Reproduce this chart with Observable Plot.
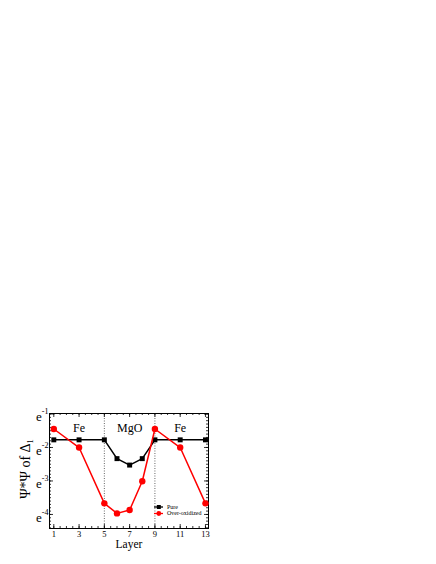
<!DOCTYPE html>
<html><head><meta charset="utf-8">
<script src="https://cdn.jsdelivr.net/npm/d3@7"></script>
<script src="https://cdn.jsdelivr.net/npm/@observablehq/plot@0.6"></script>
<style>
body{margin:0;background:#fff;}
#chart{position:absolute;left:0;top:0;}
#legend{position:absolute;left:150px;top:502px;}
</style>
</head><body><div id="chart"></div><svg id="legend" width="62" height="16"></svg>
<script>
// ---- data ----
const layers = [1, 3, 5, 6, 7, 8, 9, 11, 13];
const pure = [0.170, 0.170, 0.170, 0.097, 0.080, 0.097, 0.170, 0.170, 0.170];
const overOxidized = [0.235, 0.135, 0.0255, 0.0189, 0.0209, 0.0493, 0.235, 0.135, 0.0255];
const seriesNames = ["Pure", "Over-oxidized"];
const seriesColors = ["#000000", "#ff0000"];
const regionLabels = ["Fe", "MgO", "Fe"];
const regionCenters = [3, 7, 11];
const interfaces = [5, 9];
const xTicks = [1, 3, 5, 7, 9, 11, 13];
const yTickExponents = [-1, -2, -3, -4];
const xLabel = "Layer";
const yLabel = "Ψ*Ψ of Δ_1";

const font = '"Liberation Serif", "Times New Roman", serif';
const W = 436, H = 564, ML = 49, MR = 228, MT = 413, MB = 36;
const PW = W - ML - MR, PH = H - MT - MB;
const pureRows = layers.map((l, i) => ({layer: l, value: pure[i], series: seriesNames[0]}));
const oxRows = layers.map((l, i) => ({layer: l, value: overOxidized[i], series: seriesNames[1]}));
const yMajor = yTickExponents.map(Math.exp);
const yMinor = d3.range(-44, -9, 1).map(k => Math.exp(k / 10));
const xMinor = d3.range(2, 27, 1).map(k => k / 2);
const tk = {stroke: "#000", strokeWidth: 0.8};

const chart = Plot.plot({
  width: W, height: H,
  marginLeft: ML, marginRight: MR, marginTop: MT, marginBottom: MB,
  style: {fontFamily: font, background: "#fff", color: "#000"},
  x: {domain: [0.66, 13.24]},
  y: {type: "log", base: Math.E, domain: [Math.exp(-4.42), Math.exp(-0.985)]},
  marks: [
    Plot.ruleX(interfaces, {stroke: "#666", strokeWidth: 1, strokeDasharray: "1,1.5"}),
    // inward ticks on all four sides
    Plot.tickX(xMinor, {x: d => d, insetTop: PH - 2, ...tk}),
    Plot.tickX(xTicks, {x: d => d, insetTop: PH - 4, ...tk}),
    Plot.tickX(xMinor, {x: d => d, insetBottom: PH - 2, ...tk}),
    Plot.tickX(xTicks, {x: d => d, insetBottom: PH - 4, ...tk}),
    Plot.tickY(yMinor, {y: d => d, insetRight: PW - 2, ...tk}),
    Plot.tickY(yMajor, {y: d => d, insetRight: PW - 4, ...tk}),
    Plot.tickY(yMinor, {y: d => d, insetLeft: PW - 2, ...tk}),
    Plot.tickY(yMajor, {y: d => d, insetLeft: PW - 4, ...tk}),
    // tick labels
    Plot.axisX(xTicks, {anchor: "bottom", tickSize: 0, tickPadding: 2, fontSize: 8.5, label: null}),
    Plot.axisY(yMajor, {anchor: "left", tickSize: 0, tickPadding: 1, fontSize: 13, dy: 3,
      tickFormat: (d) => "e^" + Math.round(Math.log(d)), label: null}),
    Plot.frame({stroke: "#000", strokeWidth: 1}),
    // series
    Plot.line(pureRows, {x: "layer", y: "value", stroke: seriesColors[0], strokeWidth: 1.5}),
    Plot.dot(pureRows, {x: "layer", y: "value", symbol: "square", r: 2.8, fill: seriesColors[0], stroke: "none"}),
    Plot.line(oxRows, {x: "layer", y: "value", stroke: seriesColors[1], strokeWidth: 1.5}),
    Plot.dot(oxRows, {x: "layer", y: "value", symbol: "circle", r: 3.2, fill: seriesColors[1], stroke: "none"}),
    // region labels
    Plot.text(regionLabels, {x: (d, i) => regionCenters[i], frameAnchor: "top", dy: 10, fontSize: 12, text: d => d}),
    // axis titles
    Plot.text([xLabel], {frameAnchor: "bottom", dy: 19.5, fontSize: 11.5, text: d => d}),
    Plot.text([yLabel], {frameAnchor: "left", textAnchor: "middle", dx: -24, dy: -2, rotate: -90, fontSize: 14, text: d => d})
  ]
});
document.getElementById("chart").append(chart);

// superscripts / subscripts as real text
chart.querySelectorAll("text").forEach(t => {
  const s = t.textContent;
  let m = s.match(/^(.*)\^(.+)$/);
  let sub = false;
  if (!m) { m = s.match(/^(.*)_(.+)$/); sub = true; }
  if (!m) return;
  t.textContent = "";
  const a = document.createElementNS("http://www.w3.org/2000/svg", "tspan");
  a.textContent = m[1];
  const b = document.createElementNS("http://www.w3.org/2000/svg", "tspan");
  b.textContent = m[2];
  b.setAttribute("font-size", sub ? "60%" : "62%");
  b.setAttribute("dy", sub ? "0.4em" : "-0.85em");
  t.append(a, b);
});

// legend
const lg = d3.select("#legend");
seriesNames.forEach((name, i) => {
  const y = 5 + i * 6.5;
  const g = lg.append("g");
  g.append("line").attr("x1", 4).attr("x2", 13).attr("y1", y).attr("y2", y)
    .attr("stroke", seriesColors[i]).attr("stroke-width", 1.3);
  if (i === 0) g.append("rect").attr("x", 6.8).attr("y", y - 2).attr("width", 4).attr("height", 4).attr("fill", seriesColors[i]);
  else g.append("circle").attr("cx", 8.8).attr("cy", y).attr("r", 2.4).attr("fill", seriesColors[i]);
  g.append("text").attr("x", 17).attr("y", y).attr("dy", "0.32em")
    .attr("font-family", font).attr("font-size", 6).text(name);
});
</script>
</body></html>
